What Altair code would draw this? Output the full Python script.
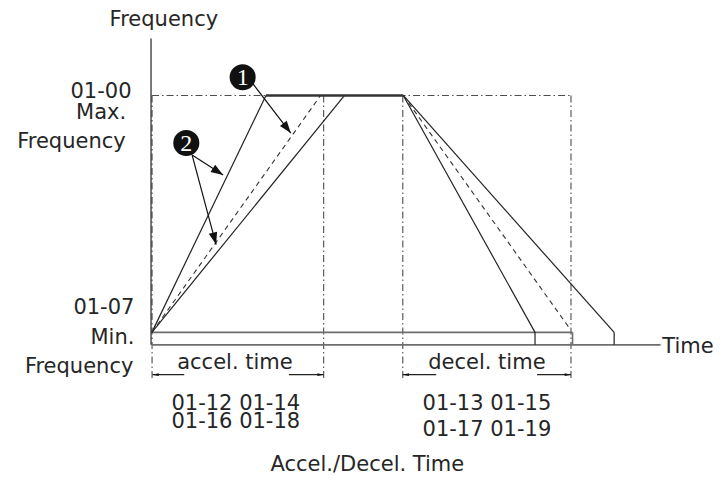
import math
import altair as alt
import pandas as pd

# ---- value space (time units, frequency units) ----
T_MIN, T_MAX = -8.401, 32.645
F_LO, F_HI = -51.79, 134.66
W, H = 706, 468

F_MAX = 100.0
F_MIN = 5.0
F_ZERO = 0.0

ACCEL_END_T = [6.66, 9.85, 11.25]
ACCEL_STYLE = ["solid", "dashed", "solid"]
FLAT_END_T = 14.68
DECEL_END_T = [22.37, 24.4, 26.99]
DECEL_END_F = [5.0, 6.5, 5.0]
DECEL_STYLE = ["solid", "dashed", "solid"]

ACCEL_BOX = [0.01, 10.03]
DECEL_BOX = [14.65, 24.47]
GUIDE_BOTTOM_F = -13.8
MIN_RECT_END_T = 24.56
TIME_AXIS_END_T = 29.7
Y_AXIS_TOP_F = 122.8

CIRCLE_T = [5.30, 2.01]
CIRCLE_F = [107.3, 80.9]
CIRCLE_TXT = ["1", "2"]

CALLOUT_FROM_T = [5.84, 2.35, 2.35]
CALLOUT_FROM_F = [105.2, 76.1, 76.1]
CALLOUT_TO_T = [8.11, 4.16, 3.75]
CALLOUT_TO_F = [84.9, 68.1, 40.2]

DIM_F = -11.95
DIM_FROM_T = [1.89, 8.0, 16.6, 22.49]
DIM_TO_T = [0.03, 10.03, 14.64, 24.47]

RIGHT_TXT = ["01-00", "Max.", "Frequency", "01-07", "Min.", "Frequency"]
RIGHT_T = [-1.19, -1.5, -1.53, -1.02, -1.02, -1.08]
RIGHT_F = [98.8, 90.7, 78.8, 12.35, 0.4, -11.16]

CENTER_TXT = ["Frequency", "accel. time", "decel. time", "01-12 01-14", "01-16 01-18",
              "01-13 01-15", "01-17 01-19", "Accel./Decel. Time"]
CENTER_T = [0.70, 4.85, 19.56, 4.9, 4.9, 19.56, 19.56, 12.58]
CENTER_F = [127.9, -9.84, -9.84, -26.2, -33.5, -26.2, -36.4, -50.7]

LEFT_TXT = ["Time"]
LEFT_T = [29.8]
LEFT_F = [-3.3]

FONT = "DejaVu Sans"
TXT_COLOR = "#262626"

# ---- build segment tables ----
def seg(rows, t1, f1, t2, f2):
    rows.append({"t1": t1, "f1": f1, "t2": t2, "f2": f2})

solid, dashed, dashdot, grey, thick = [], [], [], [], []

seg(solid, -0.05, F_ZERO, -0.05, Y_AXIS_TOP_F)
for te, st in zip(ACCEL_END_T, ACCEL_STYLE):
    seg(solid if st == "solid" else dashed, 0.0, F_MIN, te, F_MAX)
for te, fe, st in zip(DECEL_END_T, DECEL_END_F, DECEL_STYLE):
    seg(solid if st == "solid" else dashed, FLAT_END_T, F_MAX, te, fe)
    if st == "solid":
        seg(solid, te, F_ZERO, te, fe)
seg(thick, ACCEL_END_T[0], F_MAX, FLAT_END_T, F_MAX)

seg(grey, 0.0, F_ZERO, TIME_AXIS_END_T, F_ZERO)
seg(grey, 0.0, F_MIN, MIN_RECT_END_T, F_MIN)
seg(grey, MIN_RECT_END_T, F_ZERO, MIN_RECT_END_T, F_MIN)

seg(dashdot, ACCEL_BOX[0], F_MAX, DECEL_BOX[1], F_MAX)
for tb in ACCEL_BOX + DECEL_BOX:
    seg(dashdot, tb, F_MAX, tb, GUIDE_BOTTOM_F)

callout_lines = []
for a, b, c, d in zip(CALLOUT_FROM_T, CALLOUT_FROM_F, CALLOUT_TO_T, CALLOUT_TO_F):
    seg(callout_lines, a, b, c, d)
dim_lines = []
for a, c in zip(DIM_FROM_T, DIM_TO_T):
    seg(dim_lines, a, DIM_F, c, DIM_F)

SX = W / (T_MAX - T_MIN)
SY = H / (F_HI - F_LO)

def heads(rows):
    out = []
    for r in rows:
        dx = (r["t2"] - r["t1"]) * SX
        dy = -(r["f2"] - r["f1"]) * SY
        ang = math.degrees(math.atan2(dx, -dy)) % 360
        out.append({"t": r["t2"], "f": r["f2"], "ang": ang})
    return pd.DataFrame(out)

xs = alt.Scale(domain=[T_MIN, T_MAX], nice=False, zero=False)
ys = alt.Scale(domain=[F_LO, F_HI], nice=False, zero=False)


def rules(rows, color, width, dash=None):
    kw = dict(color=color, strokeWidth=width)
    if dash:
        kw["strokeDash"] = dash
    return alt.Chart(pd.DataFrame(rows)).mark_rule(**kw).encode(
        x=alt.X("t1:Q", scale=xs, axis=None),
        y=alt.Y("f1:Q", scale=ys, axis=None),
        x2="t2:Q", y2="f2:Q",
    )


def head_layer(rows, path, size):
    return alt.Chart(heads(rows)).mark_point(
        shape=path, filled=True, color="#111111", opacity=1, size=size, strokeWidth=0
    ).encode(
        x=alt.X("t:Q", scale=xs, axis=None),
        y=alt.Y("f:Q", scale=ys, axis=None),
        angle=alt.Angle("ang:Q", scale=None),
    )


def text_layer(txt, ts, fs, align, size=21, font=FONT, color=TXT_COLOR, baseline="alphabetic"):
    df = pd.DataFrame({"txt": txt, "t": ts, "f": fs})
    return alt.Chart(df).mark_text(
        align=align, baseline=baseline, font=font, fontSize=size, color=color
    ).encode(
        x=alt.X("t:Q", scale=xs, axis=None),
        y=alt.Y("f:Q", scale=ys, axis=None),
        text="txt:N",
    )

circles = alt.Chart(pd.DataFrame({"t": CIRCLE_T, "f": CIRCLE_F, "txt": CIRCLE_TXT})).mark_point(
    shape="circle", filled=True, color="#111111", opacity=1, size=680
).encode(
    x=alt.X("t:Q", scale=xs, axis=None),
    y=alt.Y("f:Q", scale=ys, axis=None),
)

circle_txt = alt.Chart(pd.DataFrame({"t": CIRCLE_T, "f": CIRCLE_F, "txt": CIRCLE_TXT})).mark_text(
    align="center", baseline="middle", font="Liberation Serif", fontSize=24, color="white", dy=1
).encode(
    x=alt.X("t:Q", scale=xs, axis=None),
    y=alt.Y("f:Q", scale=ys, axis=None),
    text="txt:N",
)

chart = alt.layer(
    rules(dashdot, "#4d4d4d", 1.1, [7, 3, 1.5, 3]),
    rules(grey, "#6e6e6e", 1.6),
    rules(solid, "#222222", 1.2),
    rules(dashed, "#333333", 1.1, [5, 4]),
    rules(thick, "#333333", 2.4),
    rules(callout_lines, "#111111", 1.2),
    rules(dim_lines, "#222222", 1.1),
    head_layer(callout_lines, "M0,0 L0.7,2 L-0.7,2 Z", 150),
    head_layer(dim_lines, "M0,0 L0.45,2 L-0.45,2 Z", 40),
    circles,
    circle_txt,
    text_layer(RIGHT_TXT, RIGHT_T, RIGHT_F, "right"),
    text_layer(CENTER_TXT, CENTER_T, CENTER_F, "center"),
    text_layer(LEFT_TXT, LEFT_T, LEFT_F, "left"),
).properties(
    width=W, height=H, padding=0,
    autosize=alt.AutoSizeParams(type="fit", contains="padding"),
    background="white",
).configure_view(stroke=None)

chart.save("out.html", embed_options={"renderer": "svg", "actions": False})
